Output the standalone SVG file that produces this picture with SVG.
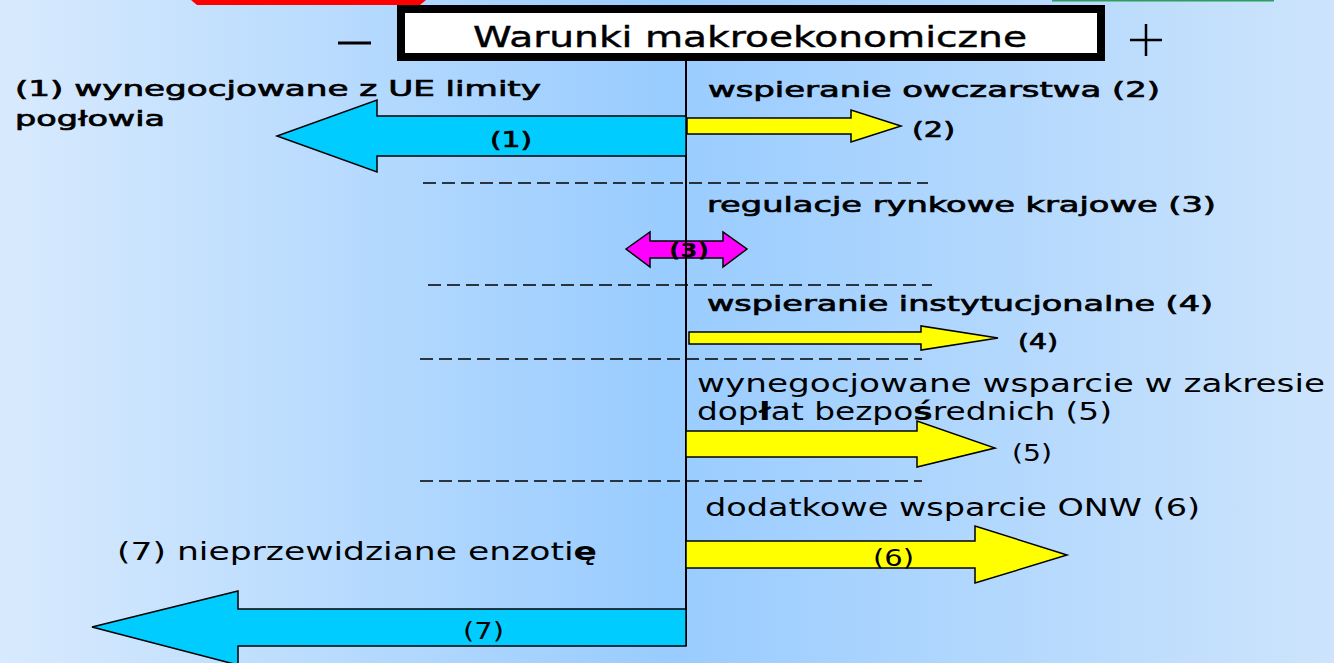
<svg xmlns="http://www.w3.org/2000/svg" width="1334" height="663" viewBox="0 0 1334 663">
<defs>
<linearGradient id="bg" x1="0" y1="0" x2="1" y2="0">
<stop offset="0" stop-color="#d8eafd"/>
<stop offset="0.5" stop-color="#99ccff"/>
<stop offset="1" stop-color="#cde4fc"/>
</linearGradient>
<style>
.t{font-family:"DejaVu Sans","Liberation Sans",sans-serif;fill:#000}
.b{font-weight:normal;stroke:#000;stroke-width:0.7}
.n{font-weight:normal}
.bb{font-weight:bold}
.arr{stroke:#000;stroke-width:1.5;stroke-linejoin:miter}
.cy{fill:#00ccff}
.ye{fill:#ffff00}
.mg{fill:#ff00ff}
.dash{stroke:#000;stroke-width:1.5;stroke-dasharray:13 6;fill:none}
</style>
</defs>
<rect x="0" y="0" width="1334" height="663" fill="url(#bg)"/>
<path d="M191,0 L426,0 L420,5 L197,5 Z" fill="#ff0000"/>
<line x1="1052" y1="0.5" x2="1274" y2="0.5" stroke="#2e9e5e" stroke-width="2"/>

<g id="connectors">
<line x1="686" y1="60" x2="686" y2="646" stroke="#000" stroke-width="2"/>
<line class="dash" x1="423" y1="183" x2="928" y2="183"/>
<line class="dash" x1="428" y1="285" x2="932" y2="285"/>
<line class="dash" x1="420" y1="359" x2="922" y2="359"/>
<line class="dash" x1="420" y1="481" x2="922" y2="481"/>
</g>

<g id="title">
<rect x="401" y="9" width="700" height="48" fill="#fff" stroke="#000" stroke-width="8"/>
<text class="t n" x="473" y="47" font-size="28" textLength="554" lengthAdjust="spacingAndGlyphs" stroke="#000" stroke-width="0.4">Warunki makroekonomiczne</text>
</g>
<g id="minus"><line x1="338" y1="43" x2="371" y2="43" stroke="#000" stroke-width="3"/></g>
<g id="plus"><path d="M1130,40 H1162 M1146,24 V56" stroke="#000" stroke-width="2.5"/></g>

<g id="label1">
<text class="t b" x="15" y="96" font-size="22" textLength="526" lengthAdjust="spacingAndGlyphs">(1) wynegocjowane  z UE limity</text>
<text class="t b" x="15" y="126" font-size="22" textLength="150" lengthAdjust="spacingAndGlyphs">pogłowia</text>
</g>
<g id="arrow1">
<path class="arr cy" d="M686,116 L377,116 L377,100 L277,136 L377,172 L377,156 L686,156 Z"/>
<text class="t b" x="490" y="147" font-size="21" textLength="42" lengthAdjust="spacingAndGlyphs">(1)</text>
</g>

<g id="label2"><text class="t b" x="708" y="97" font-size="22" textLength="452" lengthAdjust="spacingAndGlyphs">wspieranie owczarstwa (2)</text></g>
<g id="arrow2">
<path class="arr ye" d="M687,118 L851,118 L851,110 L901,126 L851,142 L851,134 L687,134 Z"/>
<text class="t b" x="912" y="137" font-size="21" textLength="43" lengthAdjust="spacingAndGlyphs">(2)</text>
</g>

<g id="label3"><text class="t b" x="707" y="212" font-size="22" textLength="509" lengthAdjust="spacingAndGlyphs">regulacje rynkowe krajowe (3)</text></g>
<g id="arrow3">
<path class="arr mg" d="M626,249 L650,232 L650,241 L723,241 L723,232 L747,249 L723,267 L723,258 L650,258 L650,267 Z"/>
<line x1="686" y1="232" x2="686" y2="268" stroke="#000" stroke-width="2"/>
<text class="t bb" x="669" y="257" font-size="20" textLength="40" lengthAdjust="spacingAndGlyphs" fill="#333">(3)</text>
</g>

<g id="label4"><text class="t b" x="707" y="311" font-size="22" textLength="506" lengthAdjust="spacingAndGlyphs">wspieranie instytucjonalne (4)</text></g>
<g id="arrow4">
<path class="arr ye" d="M689,332 L921,332 L921,326 L998,338 L921,350 L921,344 L689,344 Z"/>
<text class="t b" x="1018" y="349" font-size="21" textLength="40" lengthAdjust="spacingAndGlyphs">(4)</text>
</g>

<g id="label5">
<text class="t n" x="697" y="392" font-size="24" textLength="628" lengthAdjust="spacingAndGlyphs">wynegocjowane wsparcie w zakresie</text>
<text class="t n" x="697" y="420" font-size="24" textLength="415" lengthAdjust="spacingAndGlyphs">dop<tspan class="bb">ł</tspan>at bezpo<tspan class="bb">ś</tspan>rednich (5)</text>
</g>
<g id="arrow5">
<path class="arr ye" d="M686,431 L917,431 L917,421 L995,448 L917,467 L917,457 L686,457 Z"/>
<text class="t n" x="1012" y="461" font-size="23" textLength="40" lengthAdjust="spacingAndGlyphs">(5)</text>
</g>

<g id="label6"><text class="t n" x="705" y="516" font-size="24" textLength="495" lengthAdjust="spacingAndGlyphs">dodatkowe wsparcie ONW (6)</text></g>
<g id="arrow6">
<path class="arr ye" d="M686,541 L975,541 L975,526 L1067,555 L975,583 L975,568 L686,568 Z"/>
<text class="t n" x="873" y="566" font-size="23" textLength="41" lengthAdjust="spacingAndGlyphs">(6)</text>
</g>

<g id="label7"><text class="t n" x="117" y="560" font-size="24" textLength="480" lengthAdjust="spacingAndGlyphs">(7) nieprzewidziane enzoti<tspan class="bb">ę</tspan></text></g>
<g id="arrow7">
<path class="arr cy" d="M686,609 L238,609 L238,591 L92,627 L238,665 L238,646 L686,646 Z"/>
<text class="t n" x="463" y="639" font-size="23" textLength="41" lengthAdjust="spacingAndGlyphs">(7)</text>
</g>
</svg>
